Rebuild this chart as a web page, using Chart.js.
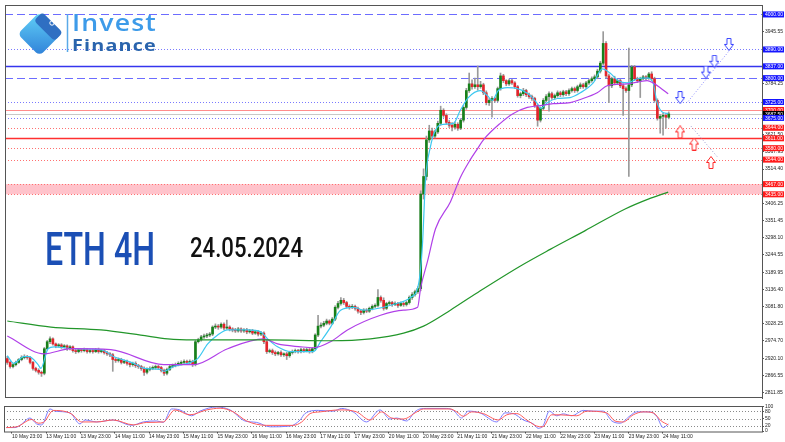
<!DOCTYPE html>
<html>
<head>
<meta charset="utf-8">
<script src="https://cdn.jsdelivr.net/npm/chart.js@4.4.1/dist/chart.umd.min.js"></script>
<style>
html, body { margin: 0; padding: 0; background: #fff; }
#wrap { position: relative; width: 785px; height: 442px; overflow: hidden; background: #fff; }
canvas { position: absolute; left: 0; }
#main { top: 0; }
#osc { top: 402px; }
.txt { position: absolute; white-space: nowrap; transform-origin: 0 0; }
</style>
</head>
<body>
<div id="wrap">
  <canvas id="main" width="785" height="403"></canvas>
  <canvas id="osc" width="785" height="40"></canvas>

  <svg style="position:absolute;left:0;top:0" width="72" height="60">
    <defs>
      <linearGradient id="lg" x1="0" y1="0" x2="1" y2="1">
        <stop offset="0" stop-color="#62d2f8"/>
        <stop offset="1" stop-color="#2f80d8"/>
      </linearGradient>
    </defs>
    <g transform="rotate(45 39.5 34)">
      <rect x="24" y="18.5" width="31" height="31" rx="5" fill="url(#lg)"/>
      <rect x="26" y="16.5" width="29" height="12" rx="4" fill="#2f6fc2"/>
    </g>
    <circle cx="52" cy="23" r="2.2" fill="none" stroke="#fff" stroke-width="1"/>
    <line x1="67.5" y1="14" x2="67.5" y2="52" stroke="#5aaae8" stroke-width="1.5"/>
  </svg>
  <div class="txt" data-w="85" style="left:72px;top:11px;font:600 23px 'Open Sans';line-height:23px;color:#3d9be9;letter-spacing:1px">Invest</div>
  <div class="txt" data-w="85" style="left:72px;top:37px;font:700 16.5px 'Open Sans';line-height:16.5px;color:#2a64ad;letter-spacing:1px">Finance</div>
  <div class="txt" data-w="110" style="left:45px;top:226px;font:500 46px Roboto;line-height:46px;color:#1b4fb5">ETH 4H</div>
  <div class="txt" data-w="113" style="left:190px;top:234px;font:500 28px Roboto;line-height:28px;color:#111">24.05.2024</div>
</div>

<script>
// H1 bars, index 0 = 10 May 21:00 ... 232 = 24 May 13:00
const opens = [
  2919,2907,2894,2900,2907,2916,2922,2925,2922,2907, 2888,2882,2876,2873,2950,2972,2981,2965,2959,2962,
  2956,2959,2950,2956,2944,2941,2947,2944,2947,2941, 2944,2941,2947,2941,2944,2938,2934,2931,2916,2913,
  2916,2907,2910,2904,2900,2904,2897,2894,2888,2876, 2885,2888,2891,2894,2891,2882,2873,2885,2894,2897,
  2900,2904,2907,2910,2907,2910,2900,2972,2978,2987, 2990,2993,2996,3018,3021,3018,3027,3015,3018,3012,
  3009,3006,3012,3006,3009,3003,3006,2999,3003,2996, 2999,2972,2941,2944,2938,2934,2938,2931,2934,2928,
  2938,2941,2944,2941,2947,2944,2947,2941,2950,2993, 3021,3024,3030,3037,3030,3043,3080,3092,3102,3095,
  3083,3080,3083,3077,3068,3064,3071,3068,3077,3083, 3086,3111,3102,3077,3092,3095,3089,3092,3086,3092,
  3089,3095,3111,3120,3129,3139,3436,3491,3606,3634, 3618,3631,3658,3699,3683,3661,3652,3646,3655,3643,
  3668,3708,3761,3782,3773,3779,3773,3779,3754,3723, 3730,3736,3730,3767,3807,3792,3782,3792,3785,3773,
  3745,3751,3761,3748,3742,3736,3714,3668,3705,3730, 3742,3751,3739,3745,3754,3748,3757,3751,3761,3767,
  3761,3773,3779,3773,3785,3792,3798,3804,3822,3847, 3909,3807,3776,3798,3785,3792,3776,3767,3761,3779,
  3835,3798,3792,3798,3804,3801,3813,3798,3730,3674,3680,3683,3677
];
const highs = [
  2926,2911,2903,2911,2919,2928,2931,2929,2925,2910, 2892,2887,2880,2954,2976,2987,2984,2968,2966,2966,
  2963,2962,2960,2959,2948,2951,2950,2952,2951,2948, 2949,2951,2952,2948,2948,2942,2938,2935,2921,2921,
  2920,2915,2914,2908,2908,2909,2901,2898,2893,2890, 2893,2896,2899,2898,2895,2886,2889,2898,2902,2905,
  2909,2912,2915,2914,2915,2914,2976,2983,2992,2996, 2998,3001,3022,3028,3026,3031,3031,3040,3022,3016,
  3014,3017,3016,3013,3014,3011,3011,3008,3007,3004, 3003,2976,2949,2949,2943,2942,2943,2937,2939,2942,
  2946,2949,2948,2951,2951,2952,2951,2954,2997,3055, 3031,3036,3043,3041,3048,3085,3099,3111,3108,3099,
  3088,3089,3087,3081,3073,3076,3076,3081,3088,3091, 3136,3116,3110,3096,3100,3099,3097,3096,3097,3096,
  3100,3116,3126,3134,3145,3446,3515,3618,3652,3643, 3637,3665,3712,3704,3688,3667,3660,3662,3660,3673,
  3714,3768,3816,3795,3800,3838,3790,3784,3760,3736, 3742,3740,3772,3816,3812,3795,3797,3796,3789,3777,
  3756,3768,3765,3753,3747,3740,3718,3710,3736,3748, 3757,3756,3750,3760,3759,3762,3762,3766,3772,3772,
  3778,3785,3784,3790,3797,3804,3810,3828,3853,3946, 3915,3813,3803,3806,3797,3797,3782,3773,3894,3840,
  3840,3803,3803,3809,3808,3818,3820,3803,3735,3686,3690,3689,3694
];
const lows = [
  2901,2889,2890,2896,2904,2912,2918,2917,2902,2883, 2877,2870,2863,2868,2946,2966,2961,2953,2955,2951,
  2952,2945,2946,2939,2935,2937,2939,2940,2936,2937, 2936,2938,2936,2937,2933,2929,2925,2879,2907,2908,
  2902,2903,2898,2893,2895,2891,2888,2882,2866,2871, 2880,2884,2886,2885,2877,2866,2868,2881,2890,2893,
  2896,2899,2902,2902,2903,2894,2896,2968,2974,2982, 2985,2988,2991,3013,3011,3014,3010,3011,3006,3003,
  3001,3002,3001,3001,2997,2999,2994,2995,2990,2991, 2966,2935,2937,2932,2928,2930,2926,2926,2916,2923,
  2933,2937,2936,2937,2939,2940,2936,2937,2946,2988, 3015,3019,3025,3025,3026,3038,3075,3087,3089,3078,
  3074,3076,3071,3062,3057,3059,3063,3064,3072,3079, 3081,3096,3071,3073,3088,3083,3085,3080,3083,3083,
  3084,3090,3105,3115,3124,3132,3420,3480,3598,3610, 3612,3626,3652,3677,3655,3645,3634,3640,3636,3638,
  3662,3702,3755,3765,3768,3762,3768,3748,3716,3714, 3677,3724,3725,3762,3786,3776,3777,3780,3768,3740,
  3738,3745,3742,3736,3730,3708,3649,3662,3700,3725, 3696,3733,3734,3740,3742,3743,3745,3746,3756,3755,
  3756,3767,3768,3768,3780,3787,3793,3798,3816,3841, 3800,3723,3770,3779,3780,3770,3683,3755,3491,3773,
  3792,3786,3739,3795,3795,3796,3792,3724,3668,3627,3621,3643,3672
];
const closes = [
  2907,2894,2900,2907,2916,2922,2925,2922,2907,2888, 2882,2876,2873,2950,2972,2981,2965,2959,2962,2956,
  2959,2950,2956,2944,2941,2947,2944,2947,2941,2944, 2941,2947,2941,2944,2938,2934,2931,2916,2913,2916,
  2907,2910,2904,2900,2904,2897,2894,2888,2876,2885, 2888,2891,2894,2891,2882,2873,2885,2894,2897,2900,
  2904,2907,2910,2907,2910,2900,2972,2978,2987,2990, 2993,2996,3018,3021,3018,3027,3015,3018,3012,3009,
  3006,3012,3006,3009,3003,3006,2999,3003,2996,2999, 2972,2941,2944,2938,2934,2938,2931,2934,2928,2938,
  2941,2944,2941,2947,2944,2947,2941,2950,2993,3021, 3024,3030,3037,3030,3043,3080,3092,3102,3095,3083,
  3080,3083,3077,3068,3064,3071,3068,3077,3083,3086, 3111,3102,3077,3092,3095,3089,3092,3086,3092,3089,
  3095,3111,3120,3129,3139,3436,3491,3606,3634,3618, 3631,3658,3699,3683,3661,3652,3646,3655,3643,3668,
  3708,3761,3782,3773,3779,3773,3779,3754,3723,3730, 3736,3730,3767,3807,3792,3782,3792,3785,3773,3745,
  3751,3761,3748,3742,3736,3714,3668,3705,3730,3742, 3751,3739,3745,3754,3748,3757,3751,3761,3767,3761,
  3773,3779,3773,3785,3792,3798,3804,3822,3847,3909, 3807,3776,3798,3785,3792,3776,3767,3761,3779,3835,
  3798,3792,3798,3804,3801,3813,3798,3730,3674,3680,3683,3677,3687.5
];

// moving averages (bar index, price)
const fastX = [0,2.3,5.8,7.6,10.8,11.8,14.3,16.4,23.4,32.8,37.4,44.4,47.9,53.8,54.9,58.4,63.3,66.8,70.3,73.8,77.3,84.3,88.9,91.3,94.8,99.4,107.4,109.9,113.4,116.9,121.4,125,128.4,135.4,141.4,144.2,145.6,146.7,148.4,150.2,153,156.5,158.9,161.7,165.9,168.4,170.1,172.2,175.4,178.9,182.7,185.9,187,189.4,192.9,197.4,201,205.5,208.7,211.4,214.3,217.4,221,224.4,226.5,227.9,230,231.8];
const fastY = [2928,2904,2925,2925,2900,2888,2950,2956,2950,2947,2925,2904,2888,2885,2879,2894,2904,2919,2965,2993,3009,3009,3003,2981,2956,2941,2941,2972,3018,3071,3080,3071,3074,3089,3111,3151,3275,3482,3584,3637,3655,3658,3699,3739,3761,3745,3730,3761,3770,3767,3751,3720,3705,3723,3736,3739,3754,3785,3829,3816,3792,3785,3798,3801,3785,3723,3692,3689];
const slowX = [0,12.9,22.3,36.3,54.9,65.4,77.3,89.9,94.8,102.9,107.4,113.4,119.3,130.9,139,143.9,145,147.4,150.2,155.4,158.9,162.4,164.9,167,172.9,177.5,182.4,187,191.5,197.4,201,206.9,210.4,217.4,224.4,226.5,229,231.8];
const slowY = [2990,2934,2950,2947,2900,2900,2950,2981,2965,2956,2953,2972,3009,3055,3071,3080,3142,3225,3327,3411,3488,3544,3578,3606,3658,3689,3708,3714,3720,3723,3733,3754,3776,3782,3792,3785,3770,3751];
const longX = [0,15.3,32.8,46.8,56.3,65.4,91.3,113.4,127.4,139,146,155.4,165.9,180,190.4,202.7,216.7,224.8,231.8];
const longY = [3037,3018,3009,2993,2981,2978,2978,2975,2981,2999,3021,3071,3132,3210,3262,3321,3389,3420,3442];

// stochastic %K / %D
const kX = [0,3,4.8,8.3,10.6,12.4,15.3,17.1,22.3,25.8,27.6,31.7,37.4,43.9,48,52.7,55,57.9,60.8,64.9,67.8,73.7,78.4,83.6,87.7,92.4,99.4,102.9,104.6,109.3,114.5,117.5,121.5,126.2,130.9,134.4,136.7,140.2,143.1,144.9,147.3,154.3,156.6,159.5,161.8,165.9,171.8,174.7,177.6,181.1,184.6,186.3,188.1,190.2,192.8,195.1,198.1,202.1,205.6,209.1,212.1,215,218.5,220.8,225.5,227.8,230.1,231.9];
const kY = [14,14,23,53,29,25,90,81,74,29,45,37,45,23,37,41,35,90,86,62,81,98,86,41,35,17,20,45,71,84,81,92,78,37,86,49,53,41,78,90,92,92,84,53,81,74,37,74,71,45,29,11,23,81,62,70,62,84,81,81,41,32,62,78,78,60,14,29];
const dX = [0,3.6,8.9,11.2,13,16.5,21.2,22.9,26.4,31.7,37.5,44.5,49.2,55,59.1,64.3,70.2,74.9,79.5,84.2,91.2,100.5,103.5,106.4,109.9,116.9,122.7,127.4,131.5,135,139.1,143.8,146.1,155.4,157.8,160.1,163,167.1,172.3,175.3,178.8,182.3,185.8,187.9,191,193.9,199.8,203.3,210.3,213.2,216.1,219.6,223.1,226.6,229.4,231.9];
const dY = [14,17,47,32,35,84,78,69,37,37,45,25,35,37,86,66,86,93,78,41,23,23,37,71,78,86,78,45,78,53,49,78,90,90,78,60,78,71,45,66,71,45,20,17,66,66,62,81,74,41,37,66,78,74,41,25];

// horizontal levels
const levelPrices = [4000, 3890, 3837, 3800, 3725, 3700, 3687.5, 3675, 3644, 3611, 3580, 3544, 3467, 3435];
const levelKinds = ['bDash','bDot','bSolid','bDash','bDot','rLight','bid','bDot','rDot','rSolid','rDot','rDot','rDot','rDot'];
const bandTop = 3467, bandBottom = 3435;

// forecast arrows and paths
const blueArrowX = [236, 245, 248, 253.1];
const blueArrowY = [3739, 3819, 3853, 3906];
const redArrowX = [236, 240.9, 246.8];
const redArrowY = [3631, 3593, 3535];
const upPathX = [238.8, 254.2], upPathY = [3727, 3897];
const downPathX = [239.8, 249.3], downPathY = [3649, 3550];

// axis labels
const priceTicks = [3945.55, 3784.25, 3621.50, 3567.95, 3514.40, 3406.25, 3351.45, 3298.10, 3244.55, 3189.95, 3136.40, 3081.80, 3028.25, 2974.70, 2920.10, 2866.55, 2811.85];
const timeBars = [2, 14, 26, 38, 50, 62, 74, 86, 98, 110, 122, 134, 146, 158, 170, 182, 194, 206, 218, 230];
const timeLabels = ['10 May 23:00','13 May 11:00','13 May 23:00','14 May 11:00','14 May 23:00','15 May 11:00','15 May 23:00','16 May 11:00','16 May 23:00','17 May 11:00','17 May 23:00','20 May 11:00','20 May 23:00','21 May 11:00','21 May 23:00','22 May 11:00','22 May 23:00','23 May 11:00','23 May 23:00','24 May 11:00'];
const oscTicks = [100, 80, 50, 20, 0];
const oscLevels = [80, 50, 20];

const xMin = -0.8, xMax = 264.7;
const tinyFont = { family: 'Liberation Sans', size: 5 };

const pts = (xs, ys) => xs.map((x, i) => ({ x: x, y: ys[i] }));

function arrowImage(color, down) {
    const c = document.createElement('canvas');
    c.width = 10; c.height = 13;
    const g = c.getContext('2d');
    if (!down) { g.translate(0, 13); g.scale(1, -1); }
    g.beginPath();
    g.moveTo(3, 0.5); g.lineTo(7, 0.5); g.lineTo(7, 6.5); g.lineTo(9.5, 6.5);
    g.lineTo(5, 12.5); g.lineTo(0.5, 6.5); g.lineTo(3, 6.5); g.closePath();
    g.fillStyle = '#fff'; g.fill();
    g.strokeStyle = color; g.lineWidth = 1; g.stroke();
    return c;
}

const levelStyle = {
    bDash:  { color: '#6c6cff', width: 1, dash: [8, 4] },
    bDot:   { color: '#7a7aff', width: 1, dash: [1, 2] },
    bSolid: { color: '#3535ee', width: 1.5, dash: [] },
    rLight: { color: '#ff8c8c', width: 1, dash: [] },
    bid:    { color: '#c8c8c8', width: 1, dash: [] },
    rDot:   { color: '#ff7070', width: 1, dash: [1, 2] },
    rSolid: { color: '#ff3030', width: 1.5, dash: [] }
};
const boxColor = { bDash: '#1515ff', bDot: '#1515ff', bSolid: '#1515ff', rLight: '#ff1a1a', rDot: '#ff1a1a', rSolid: '#ff1a1a', bid: '#000' };

const levelsPlugin = {
    id: 'levels',
    beforeDatasetsDraw(chart) {
        const { ctx, chartArea: a, scales: { y } } = chart;
        ctx.save();
        const t = y.getPixelForValue(bandTop), b = y.getPixelForValue(bandBottom);
        ctx.fillStyle = 'rgba(255,175,185,0.75)';
        ctx.fillRect(a.left, t, a.right - a.left, b - t);
        levelPrices.forEach((p, i) => {
            const st = levelStyle[levelKinds[i]];
            const py = Math.round(y.getPixelForValue(p)) + 0.5;
            ctx.strokeStyle = st.color;
            ctx.lineWidth = st.width;
            ctx.setLineDash(st.dash);
            ctx.beginPath();
            ctx.moveTo(a.left, py);
            ctx.lineTo(a.right, py);
            ctx.stroke();
        });
        ctx.restore();
    },
    afterDraw(chart) {
        const { ctx, chartArea: a, scales: { y } } = chart;
        ctx.save();
        ctx.strokeStyle = '#555';
        ctx.lineWidth = 1;
        ctx.strokeRect(a.left + 0.5, a.top + 0.5, a.right - a.left, a.bottom - a.top - 1);
        ctx.font = '5px "Liberation Sans"';
        ctx.textBaseline = 'middle';
        levelPrices.forEach((p, i) => {
            const py = y.getPixelForValue(p);
            ctx.fillStyle = boxColor[levelKinds[i]];
            ctx.fillRect(a.right + 1, py - 3, 21, 6);
            ctx.fillStyle = '#fff';
            ctx.fillText(p.toFixed(2), a.right + 3, py + 0.3);
        });
        ctx.restore();
    }
};

new Chart(document.getElementById('main'), {
    type: 'bar',
    data: {
        datasets: [
            { type: 'line', data: pts(longX, longY), borderColor: '#22962a', borderWidth: 1.2, pointRadius: 0, cubicInterpolationMode: 'monotone', order: 2 },
            { type: 'line', data: pts(slowX, slowY), borderColor: '#b040e8', borderWidth: 1.2, pointRadius: 0, cubicInterpolationMode: 'monotone', order: 2 },
            { type: 'line', data: pts(fastX, fastY), borderColor: '#3cc8f0', borderWidth: 1.2, pointRadius: 0, cubicInterpolationMode: 'monotone', order: 2 },
            { type: 'line', data: pts(upPathX, upPathY), borderColor: '#8c8cff', borderWidth: 1, borderDash: [1, 2], pointRadius: 0, order: 1 },
            { type: 'line', data: pts(downPathX, downPathY), borderColor: '#9a9ad2', borderWidth: 1, borderDash: [1, 2], pointRadius: 0, order: 1 },
            { type: 'scatter', data: pts(blueArrowX, blueArrowY), pointStyle: arrowImage('#3440ff', true), order: 0 },
            { type: 'scatter', data: pts(redArrowX, redArrowY), pointStyle: arrowImage('#ff2a2a', false), order: 0 },
            {
                data: closes.map((c, i) => ({ x: i, y: [lows[i], highs[i]] })),
                backgroundColor: '#9a9a9a', barThickness: 1, grouped: false, order: 4
            },
            {
                data: closes.map((c, i) => ({ x: i, y: [opens[i], c] })),
                backgroundColor: closes.map((c, i) => c >= opens[i] ? '#17801a' : '#e3242b'),
                barThickness: 2, minBarLength: 1, grouped: false, order: 3
            }
        ]
    },
    options: {
        animation: false,
        responsive: false,
        events: [],
        layout: { padding: { left: 4, top: 3, right: 0, bottom: 1 } },
        plugins: { legend: { display: false }, tooltip: { enabled: false } },
        scales: {
            x: { type: 'linear', min: xMin, max: xMax, offset: false, display: false },
            y: {
                position: 'right', min: 2795.2, max: 4029.7,
                afterFit: s => { s.width = 23; },
                afterBuildTicks: s => { s.ticks = priceTicks.map(v => ({ value: v })); },
                ticks: { autoSkip: false, font: tinyFont, color: '#222', padding: 1, callback: v => v.toFixed(2) },
                grid: { drawOnChartArea: false, tickLength: 2, color: '#555' },
                border: { display: true, color: '#555' }
            }
        }
    },
    plugins: [levelsPlugin]
});

const oscPlugin = {
    id: 'oscFrame',
    beforeDatasetsDraw(chart) {
        const { ctx, chartArea: a, scales: { y } } = chart;
        ctx.save();
        ctx.strokeStyle = '#8a8a8a';
        ctx.lineWidth = 1;
        ctx.setLineDash([1, 2]);
        oscLevels.forEach(v => {
            const py = Math.round(y.getPixelForValue(v)) + 0.5;
            ctx.beginPath(); ctx.moveTo(a.left, py); ctx.lineTo(a.right, py); ctx.stroke();
        });
        ctx.restore();
    },
    afterDraw(chart) {
        const { ctx, chartArea: a } = chart;
        ctx.save();
        ctx.strokeStyle = '#555';
        ctx.lineWidth = 1;
        ctx.strokeRect(a.left + 0.5, a.top + 0.5, a.right - a.left, a.bottom - a.top);
        ctx.restore();
    }
};

new Chart(document.getElementById('osc'), {
    type: 'line',
    data: {
        datasets: [
            { data: pts(dX, dY), borderColor: '#ff5a5a', borderWidth: 1, pointRadius: 0, cubicInterpolationMode: 'monotone' },
            { data: pts(kX, kY), borderColor: '#7c7cff', borderWidth: 1, pointRadius: 0, cubicInterpolationMode: 'monotone' }
        ]
    },
    options: {
        animation: false,
        responsive: false,
        events: [],
        layout: { padding: { left: 4, top: 1, right: 0, bottom: 0 } },
        plugins: { legend: { display: false }, tooltip: { enabled: false } },
        scales: {
            x: {
                type: 'linear', min: xMin, max: xMax, offset: false,
                afterFit: s => { s.height = 10.5; },
                afterBuildTicks: s => { s.ticks = timeBars.map(v => ({ value: v })); },
                ticks: { autoSkip: false, maxRotation: 0, align: 'start', font: tinyFont, color: '#222', padding: 0,
                         callback: (v, i) => timeLabels[i] },
                grid: { drawOnChartArea: false, tickLength: 2, color: '#444' },
                border: { display: false }
            },
            y: {
                position: 'right', min: -2, max: 102,
                afterFit: s => { s.width = 23; },
                afterBuildTicks: s => { s.ticks = oscTicks.map(v => ({ value: v })); },
                ticks: { autoSkip: false, font: tinyFont, color: '#222', padding: 1 },
                grid: { drawOnChartArea: false, tickLength: 2, color: '#555' },
                border: { display: false }
            }
        }
    },
    plugins: [oscPlugin]
});

function fitTexts() {
    document.querySelectorAll('.txt').forEach(el => {
        el.style.transform = 'none';
        const w = el.getBoundingClientRect().width;
        if (w > 0) el.style.transform = 'scaleX(' + (el.dataset.w / w) + ')';
    });
}
fitTexts();
document.fonts.ready.then(fitTexts);
</script>
</body>
</html>
